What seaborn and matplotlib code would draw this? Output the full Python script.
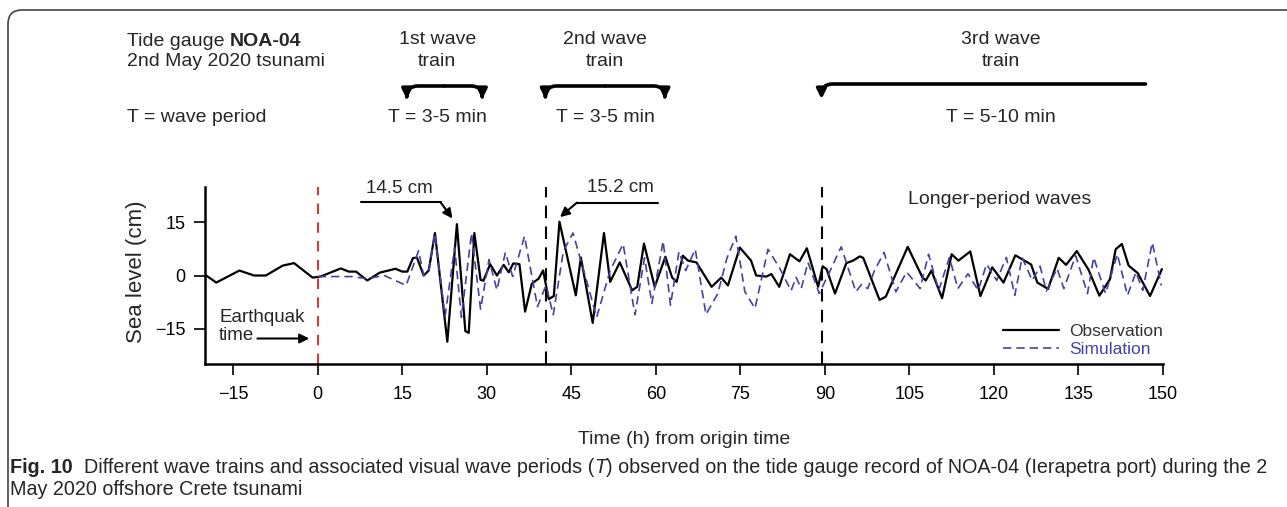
import matplotlib
matplotlib.use('Agg')
import matplotlib.pyplot as plt
import matplotlib.transforms as mtransforms
from matplotlib.patches import FancyBboxPatch
import numpy as np
import pandas as pd
import seaborn as sns

# observed tide gauge record (time from origin, sea level in cm)
obs_t = [-19.8, -18.0, -13.9, -11.3, -9.2, -6.2, -4.2, -0.9, 0.5, 4.1, 5.5, 6.8,
         8.8, 11.0, 13.8, 15.0, 15.9, 16.9, 17.6, 18.8, 19.7, 20.8, 23.0, 24.7,
         26.2, 26.8, 27.8, 28.9, 29.4, 30.6, 31.8, 33.0, 33.9, 34.7, 35.8, 36.8,
         38.0, 39.2, 40.0, 41.0, 41.9, 42.9, 45.8, 46.7, 48.8, 50.8, 51.9, 53.6,
         55.8, 56.7, 57.9, 59.8, 61.7, 62.9, 63.7, 64.8, 65.7, 67.2, 69.9, 71.6,
         72.8, 74.9, 76.9, 77.8, 79.6, 80.5, 81.9, 83.8, 85.5, 86.8, 88.8, 89.6,
         90.3, 91.8, 93.8, 95.0, 96.2, 96.8, 99.7, 100.8, 104.7, 107.3, 107.9,
         108.9, 110.8, 112.5, 113.7, 115.8, 117.6, 119.7, 121.7, 123.8, 126.6,
         127.7, 129.6, 131.5, 132.8, 134.7, 136.8, 138.7, 140.6, 141.6, 142.7,
         143.9, 145.5, 147.7, 149.8]
obs_y = [0.0, -2.0, 1.4, 0.0, 0.0, 2.8, 3.5, -0.6, -0.3, 2.0, 1.1, 1.1,
         -1.4, 0.8, 1.9, 1.1, 1.1, 4.9, 5.1, 0.0, 1.4, 12.0, -18.7, 14.5,
         -15.7, -16.2, 12.0, -1.2, -1.5, 3.2, 0.0, 3.0, 0.9, 3.4, 3.2, -10.2,
         -2.3, -0.9, 1.4, -6.7, -5.8, 15.2, -5.6, 5.1, -13.4, 12.0, -1.8, 3.7,
         -4.2, -3.2, 9.0, -3.2, 5.3, -0.6, -1.8, 5.6, 4.2, 3.7, -3.2, -0.6,
         -2.8, 7.9, 4.2, 0.0, -0.3, 0.4, -3.2, 6.0, 4.0, 7.7, -3.2, 2.6,
         1.8, -5.1, 3.5, 4.2, 5.4, 5.0, -6.9, -6.0, 8.1, -0.5, -1.4,
         1.4, -6.4, 6.0, 4.2, 6.8, -5.8, 2.3, -2.0, 5.7, 3.1,
         -2.0, -3.8, 5.0, 3.0, 6.9, 1.6, -5.7, -1.0, 7.4, 8.9,
         2.8, 0.7, -5.8, 1.8]

# simulated record
sim_t = [0.0, 6.0, 8.8, 11.8, 15.7, 17.9, 18.8, 19.7, 20.8, 22.6, 24.3, 25.5,
         27.3, 28.9, 30.4, 31.8, 33.3, 34.6, 36.7, 39.0, 40.5, 41.8, 43.6, 45.3,
         47.7, 49.5, 51.9, 54.2, 56.3, 58.0, 59.3, 61.3, 62.6, 64.1, 65.3, 67.0,
         68.9, 71.0, 72.6, 74.2, 75.8, 77.6, 79.9, 81.9, 84.0, 84.9, 85.8, 87.0,
         89.0, 90.8, 92.9, 95.5, 96.5, 97.6, 98.8, 100.5, 102.6, 104.5, 106.9,
         108.4, 110.2, 112.1, 113.6, 115.4, 117.2, 118.7, 120.5, 122.2, 123.7,
         125.0, 126.8, 128.2, 129.3, 131.2, 132.4, 134.5, 136.6, 137.7, 139.8,
         141.9, 143.7, 145.2, 146.4, 148.1, 149.7]
sim_y = [-0.3, -0.3, -0.9, 0.0, -2.8, 7.0, 0.0, 1.5, 11.8, -11.5, 7.9, -11.8,
         12.0, -9.5, 4.5, -4.1, 6.5, -0.3, 11.1, -8.8, -2.8, -11.1, 6.9, 12.0,
         -1.4, -11.8, 1.4, 8.9, -11.1, 5.0, -7.9, 9.7, -8.4, 6.7, 1.4, 7.4,
         -11.0, -5.1, 4.8, 11.1, -4.6, -9.3, 7.4, 2.3, -4.3, -0.5, -3.7, 3.7,
         -5.1, 0.9, 8.1, -4.6, -2.5, -3.7, 1.4, 6.5, -4.6, 1.0, -3.7,
         6.0, -4.2, 5.1, -3.7, 0.5, -4.2, 3.2, -1.4, 5.1, -5.6,
         5.1, -1.4, 2.6, -4.4, 2.0, -3.7, 5.6, -5.1, 5.1, -5.1,
         6.0, -5.6, 0.9, -4.2, 9.3, -2.8]

x_ticks = list(range(-15, 151, 15))
y_ticks = [-15, 0, 15]
train_bounds = [40.5, 89.5]

obs = pd.DataFrame({'t': obs_t, 'level': obs_y})
sim = pd.DataFrame({'t': sim_t, 'level': sim_y})

sns.set_style('ticks')
plt.rcParams['font.family'] = ['Liberation Sans', 'DejaVu Sans']

W, H = 1287, 507
fig = plt.figure(figsize=(W / 100, H / 100), dpi=100)
ax = fig.add_axes([205 / W, 1 - 364 / H, (1163 - 205) / W, (364 - 187) / H])

sim_color = '#4343a3'
sns.lineplot(data=obs, x='t', y='level', color='black', lw=1.6,
             estimator=None, ax=ax, label='Observation')
sns.lineplot(data=sim, x='t', y='level', color=sim_color, lw=1.2,
             estimator=None, ax=ax, label='Simulation', linestyle=(0, (5, 3)))

ax.axvline(0, color='#d43a3a', lw=1.5, ls=(0, (5, 4)))
for b in train_bounds:
    ax.axvline(b, color='black', lw=1.5, ls=(0, (6, 4)))

ax.set_xlim(-20, 150)
ax.set_ylim(-25, 25)
ax.set_xticks(x_ticks)
ax.set_yticks(y_ticks)
ax.tick_params(axis='x', direction='out', length=8, width=1.2,
               labelsize=13, colors='black', pad=8)
ax.tick_params(axis='y', direction='out', length=8, width=1.2,
               labelsize=13, colors='black', pad=6)
for s in ['left', 'bottom']:
    ax.spines[s].set_linewidth(1.8)
    ax.spines[s].set_color('black')
for s in ['top', 'right']:
    ax.spines[s].set_visible(False)
ax.set_xlabel('Time (h) from origin time', fontsize=14, labelpad=20)
ax.set_ylabel('Sea level (cm)', fontsize=16, va='center')
ax.yaxis.set_label_coords(-0.072, 0.52)

leg = ax.legend(loc='lower right', bbox_to_anchor=(1.0, 0.04), frameon=False,
                fontsize=12.5, handlelength=3.2, borderaxespad=0, borderpad=0,
                labelspacing=0.15, handletextpad=0.6)
leg.get_texts()[0].set_color('#333333')
leg.get_texts()[1].set_color(sim_color)

# annotations inside the plot
arrow_kw = dict(arrowstyle='-|>', color='black', lw=1.5, shrinkA=0, shrinkB=0,
                mutation_scale=14)
ax.text(14.5, 24.6, '14.5 cm', ha='center', va='center', fontsize=13.5)
ax.plot([7.6, 21.8], [20.7, 20.7], color='black', lw=1.5, clip_on=False)
ax.annotate('', xy=(23.9, 16.1), xytext=(21.8, 20.7), arrowprops=arrow_kw,
            annotation_clip=False)
ax.text(53.8, 24.9, '15.2 cm', ha='center', va='center', fontsize=13.5)
ax.plot([46.0, 60.4], [20.6, 20.6], color='black', lw=1.5, clip_on=False)
ax.annotate('', xy=(43.0, 16.5), xytext=(46.0, 20.6), arrowprops=arrow_kw,
            annotation_clip=False)
ax.text(121, 21.5, 'Longer-period waves', ha='center', va='center', fontsize=14)
ax.text(-17.5, -12.0, 'Earthquak', ha='left', va='center', fontsize=13.5)
ax.text(-17.5, -17.0, 'time', ha='left', va='center', fontsize=13.5)
ax.annotate('', xy=(-1.5, -17.8), xytext=(-10.7, -17.8), arrowprops=arrow_kw,
            annotation_clip=False)

# header above the plot
def fy(py):
    return 1 - py / H

blend = mtransforms.blended_transform_factory(ax.transData, fig.transFigure)
t1 = fig.text(127 / W, fy(46), 'Tide gauge ', fontsize=14, va='baseline')
ax.annotate('NOA-04', xy=(1, fy(46)), xycoords=(t1, 'figure fraction'),
            fontsize=14, fontweight='bold', va='baseline', ha='left')
fig.text(127 / W, fy(62), '2nd May 2020 tsunami', fontsize=14, va='center')
fig.text(127 / W, fy(118), 'T = wave period', fontsize=14, va='center')

for xc, l1, period in [(21.2, '1st wave', 'T = 3-5 min'),
                       (51.0, '2nd wave', 'T = 3-5 min'),
                       (121.2, '3rd wave', 'T = 5-10 min')]:
    ax.text(xc, fy(40), l1, transform=blend, ha='center', va='center', fontsize=14)
    ax.text(xc, fy(62), 'train', transform=blend, ha='center', va='center', fontsize=14)
    ax.text(xc, fy(118), period, transform=blend, ha='center', va='center', fontsize=14)

bracket_kw = dict(arrowstyle='-|>', color='black', lw=2.6, shrinkA=0, shrinkB=0,
                  mutation_scale=14,
                  connectionstyle='angle,angleA=0,angleB=90,rad=11')
for left, right in [(15.8, 29.2), (40.4, 61.6)]:
    mid = (left + right) / 2
    for end in (left, right):
        ax.annotate('', xy=(end, fy(99)), xycoords=blend,
                    xytext=(mid, fy(86)), textcoords=blend,
                    arrowprops=bracket_kw, annotation_clip=False)
ax.annotate('', xy=(89.4, fy(99)), xycoords=blend,
            xytext=(146.9, fy(84)), textcoords=blend,
            arrowprops=bracket_kw, annotation_clip=False)

# caption
cap_font = ['Liberation Sans', 'DejaVu Sans']
cap_size = 14.2
c0 = fig.text(10 / W, fy(473), 'Fig. 10', fontsize=cap_size, fontweight='bold',
              family=cap_font, va='baseline')
pieces = [('  Different wave trains and associated visual wave periods (', 'normal'),
          ('T', 'italic'),
          (') observed on the tide gauge record of NOA-04 (Ierapetra port) during the 2', 'normal')]
prev = c0
for txt, style in pieces:
    prev = ax.annotate(txt, xy=(1, fy(473)), xycoords=(prev, 'figure fraction'),
                       fontsize=cap_size, fontstyle=style, family=cap_font,
                       va='baseline', ha='left', annotation_clip=False)
fig.text(10 / W, fy(495), 'May 2020 offshore Crete tsunami', fontsize=cap_size,
         family=cap_font, va='baseline')

border = FancyBboxPatch((8, -60), 1400, H - 10 + 60,
                        boxstyle='round,pad=0,rounding_size=14',
                        transform=mtransforms.IdentityTransform(),
                        fill=False, ec='#444444', lw=1.2)
fig.add_artist(border)

fig.savefig('out.png', dpi=100)
plt.close(fig)
